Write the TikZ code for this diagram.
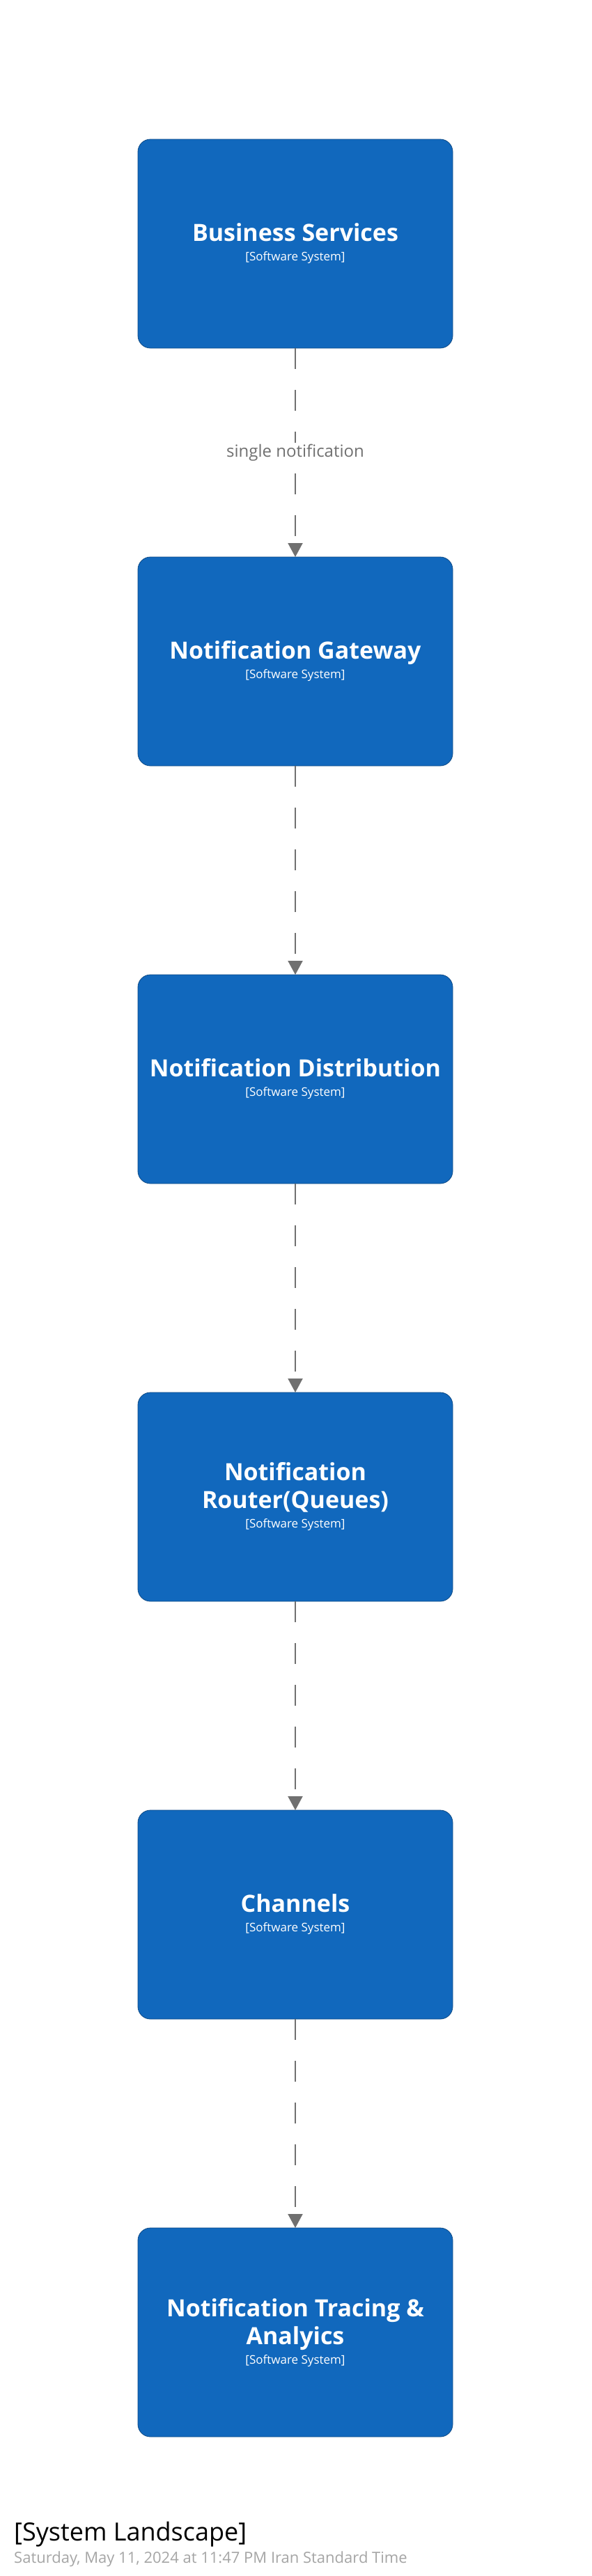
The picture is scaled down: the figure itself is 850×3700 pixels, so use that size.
\documentclass[tikz,border=0pt]{standalone}
\usepackage{fontspec}
\setmainfont{Open Sans}
\definecolor{sysblue}{HTML}{1168BD}
\definecolor{sysborder}{HTML}{0B4884}
\definecolor{relgray}{HTML}{707070}
\definecolor{dategray}{HTML}{A5A5A5}
\usetikzlibrary{positioning,chains,arrows.meta}
\newcommand{\systag}{\\[-12pt]{\fontsize{17}{22}\mdseries\selectfont [Software System]}}

\begin{document}
\begin{tikzpicture}[
    sysnode/.style={draw=sysborder,line width=0.8pt,fill=sysblue,text=white,rounded corners=18pt,
      minimum width=452pt,minimum height=300pt,align=center,inner sep=0pt,outer sep=0pt,
      font=\fontsize{34}{40}\bfseries\selectfont},
    rel/.style={draw=relgray,line width=2pt,dash pattern=on 30pt off 30pt,
      -{Triangle[length=20pt,width=21pt]}},
    rellabel/.style={fill=white,text=relgray,font=\fontsize{24}{28}\selectfont,inner sep=2pt}
    ]
    \useasboundingbox (0,0) rectangle (850pt,-3700pt);

    % the software systems
    \begin{scope}[xshift=424pt,yshift=-350pt,start chain=going below,node distance=300pt]
    \node[sysnode,on chain] (bsvc) {Business Services\systag};
    \node[sysnode,on chain] (ngw) {Notification Gateway\systag};
    \node[sysnode,on chain] (ndist) {Notification Distribution\systag};
    \node[sysnode,on chain] (nrouter) {Notification\\Router(Queues)\systag};
    \node[sysnode,on chain] (chan) {Channels\systag};
    \node[sysnode,on chain] (ntrace) {Notification Tracing \&\\Analyics\systag};
    \end{scope}

    % the relationships
    \draw[rel] (bsvc) -- node[rellabel] {single notification} (ngw);
    \foreach \a/\b in {ngw/ndist,ndist/nrouter,nrouter/chan,chan/ntrace}
    \draw[rel] (\a) -- (\b);

    % the footer
    \node[anchor=base west,inner sep=0pt,font=\fontsize{36}{42}\selectfont] (title) at (20pt,-3649pt) {[System Landscape]};
    \node[anchor=base west,inner sep=0pt,text=dategray,font=\fontsize{22}{26}\selectfont] (date) at (20pt,-3681pt)
      {Saturday, May 11, 2024 at 11:47 PM Iran Standard Time};
\end{tikzpicture}
\end{document}
